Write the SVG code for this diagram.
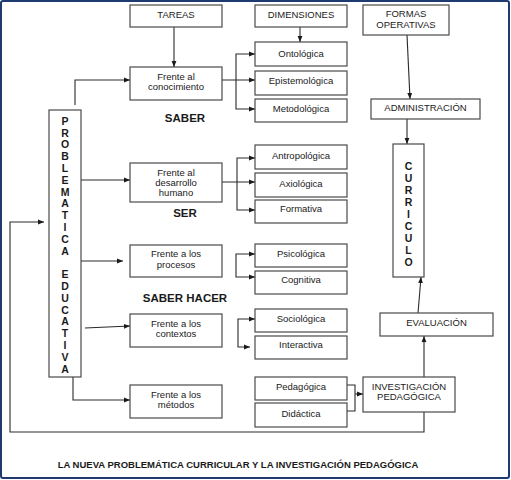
<svg xmlns="http://www.w3.org/2000/svg" width="511" height="480" viewBox="0 0 511 480">
<style>
.box{fill:#fff;stroke:#4a4a4a;stroke-width:1.2}
.t{font-family:"Liberation Sans",Arial,sans-serif;font-size:9.5px;fill:#1a1a1a;text-anchor:middle}
.b{font-family:"Liberation Sans",Arial,sans-serif;font-weight:bold;fill:#1a1a1a;text-anchor:middle}
.c{fill:none;stroke:#2a2a2a;stroke-width:1.1}
</style>
<defs>
<marker id="ah" viewBox="0 0 10 10" refX="10" refY="5" markerWidth="6" markerHeight="6" markerUnits="userSpaceOnUse" orient="auto"><path d="M0,1 L10,5 L0,9 z" fill="#1a1a1a"/></marker>
</defs>
<rect x="0" y="0" width="511" height="480" fill="#fff"/>
<rect x="1" y="1" width="508" height="477" rx="2" fill="none" stroke="#1f3a6e" stroke-width="2"/>

<g id="connectors">
<path class="c" d="M174,27 V67" marker-end="url(#ah)"/>
<path class="c" d="M300,27 V42" marker-end="url(#ah)"/>
<path class="c" d="M407,35 L410,99" marker-end="url(#ah)"/>
<path class="c" d="M407,119 V144" marker-end="url(#ah)"/>
<path class="c" d="M418,313 L421,277" marker-end="url(#ah)"/>
<path class="c" d="M424,377 V336" marker-end="url(#ah)"/>
<path class="c" d="M75,105 V80 H130" marker-end="url(#ah)"/>
<path class="c" d="M81,180 H130" marker-end="url(#ah)"/>
<path class="c" d="M81,261 H123" marker-end="url(#ah)"/>
<path class="c" d="M85,328 L130,326" marker-end="url(#ah)"/>
<path class="c" d="M73,377 V400 H130" marker-end="url(#ah)"/>
<path class="c" d="M424,412 V432 H10 V222 H44" marker-end="url(#ah)"/>
<path class="c" d="M222,80 H255" marker-end="url(#ah)"/>
<path class="c" d="M236,80 V54 H255" marker-end="url(#ah)"/>
<path class="c" d="M236,80 V109 H255" marker-end="url(#ah)"/>
<path class="c" d="M222,182 H255" marker-end="url(#ah)"/>
<path class="c" d="M237,182 V158 H255" marker-end="url(#ah)"/>
<path class="c" d="M237,182 V210 H255" marker-end="url(#ah)"/>
<path class="c" d="M236,266 V254 H255" marker-end="url(#ah)"/>
<path class="c" d="M236,266 V277 H255" marker-end="url(#ah)"/>
<path class="c" d="M238,333 V319 H255" marker-end="url(#ah)"/>
<path class="c" d="M238,333 V347 H250" marker-end="url(#ah)"/>
<path class="c" d="M347,385 H355 V411 H347"/>
<path class="c" d="M355,394 H363" marker-end="url(#ah)"/>
</g>

<g id="tareas"><rect class="box" x="130" y="5" width="92" height="22"/><text class="t" x="176" y="17.5">TAREAS</text></g>
<g id="dimensiones"><rect class="box" x="255" y="5" width="92" height="22"/><text class="t" x="301" y="17.5">DIMENSIONES</text></g>
<g id="formas"><rect class="box" x="363" y="5" width="86" height="30"/><text class="t" x="406" y="16.5">FORMAS</text><text class="t" x="406" y="27.5">OPERATIVAS</text></g>

<g id="ontologica"><rect class="box" x="255" y="42" width="92" height="24"/><text class="t" x="301" y="56.5">Ontológica</text></g>
<g id="epistemologica"><rect class="box" x="255" y="71" width="92" height="24"/><text class="t" x="301" y="83.5">Epistemológica</text></g>
<g id="metodologica"><rect class="box" x="255" y="99" width="92" height="23"/><text class="t" x="301" y="111.5">Metodológica</text></g>

<g id="conocimiento"><rect class="box" x="130" y="67" width="92" height="33"/><text class="t" x="176" y="79.5">Frente al</text><text class="t" x="176" y="89.5">conocimiento</text></g>
<g id="saber"><text class="b" x="185" y="122" font-size="11.5">SABER</text></g>

<g id="administracion"><rect class="box" x="371" y="99" width="109" height="20"/><text class="t" x="425.5" y="110.5">ADMINISTRACIÓN</text></g>

<g id="antropologica"><rect class="box" x="255" y="145" width="92" height="24"/><text class="t" x="301" y="158.5">Antropológica</text></g>
<g id="axiologica"><rect class="box" x="255" y="173" width="92" height="24"/><text class="t" x="301" y="186.5">Axiológica</text></g>
<g id="formativa"><rect class="box" x="255" y="200" width="92" height="23"/><text class="t" x="301" y="212">Formativa</text></g>

<g id="desarrollo"><rect class="box" x="130" y="163" width="92" height="39"/><text class="t" x="176" y="175.5">Frente al</text><text class="t" x="176" y="185.5">desarrollo</text><text class="t" x="176" y="195.5">humano</text></g>
<g id="ser"><text class="b" x="185" y="217" font-size="11.5">SER</text></g>

<g id="problematica"><rect class="box" x="49" y="110" width="32" height="267"/>
<text class="b" font-size="10.5"><tspan x="65" y="124.8">P</tspan><tspan x="65" dy="11.8">R</tspan><tspan x="65" dy="11.8">O</tspan><tspan x="65" dy="11.8">B</tspan><tspan x="65" dy="11.8">L</tspan><tspan x="65" dy="11.8">E</tspan><tspan x="65" dy="11.8">M</tspan><tspan x="65" dy="11.8">A</tspan><tspan x="65" dy="11.8">T</tspan><tspan x="65" dy="11.8">I</tspan><tspan x="65" dy="11.8">C</tspan><tspan x="65" dy="11.8">A</tspan><tspan x="65" dy="23.6">E</tspan><tspan x="65" dy="11.8">D</tspan><tspan x="65" dy="11.8">U</tspan><tspan x="65" dy="11.8">C</tspan><tspan x="65" dy="11.8">A</tspan><tspan x="65" dy="11.8">T</tspan><tspan x="65" dy="11.8">I</tspan><tspan x="65" dy="11.8">V</tspan><tspan x="65" dy="11.8">A</tspan></text></g>

<g id="curriculo"><rect class="box" x="393" y="144" width="31" height="133"/>
<text class="b" font-size="10.5"><tspan x="408.5" y="169.7">C</tspan><tspan x="408.5" dy="12">U</tspan><tspan x="408.5" dy="12">R</tspan><tspan x="408.5" dy="12">R</tspan><tspan x="408.5" dy="12">I</tspan><tspan x="408.5" dy="12">C</tspan><tspan x="408.5" dy="12">U</tspan><tspan x="408.5" dy="12">L</tspan><tspan x="408.5" dy="12">O</tspan></text></g>

<g id="procesos"><rect class="box" x="130" y="245" width="92" height="32"/><text class="t" x="176" y="256.5">Frente a los</text><text class="t" x="176" y="267.5">procesos</text></g>
<g id="psicologica"><rect class="box" x="255" y="244" width="92" height="23"/><text class="t" x="301" y="256.5">Psicológica</text></g>
<g id="cognitiva"><rect class="box" x="255" y="271" width="92" height="23"/><text class="t" x="301" y="282.5">Cognitiva</text></g>
<g id="saberhacer"><text class="b" x="185" y="302" font-size="11.5">SABER HACER</text></g>

<g id="contextos"><rect class="box" x="130" y="314" width="92" height="33"/><text class="t" x="176" y="326.5">Frente a los</text><text class="t" x="176" y="336.5">contextos</text></g>
<g id="sociologica"><rect class="box" x="255" y="309" width="92" height="23"/><text class="t" x="301" y="321.5">Sociológica</text></g>
<g id="interactiva"><rect class="box" x="255" y="336" width="92" height="23"/><text class="t" x="301" y="347.5">Interactiva</text></g>
<g id="evaluacion"><rect class="box" x="380" y="313" width="113" height="23"/><text class="t" x="436.5" y="325.5">EVALUACIÓN</text></g>

<g id="metodos"><rect class="box" x="130" y="385" width="92" height="33"/><text class="t" x="176" y="397.5">Frente a los</text><text class="t" x="176" y="407.5">métodos</text></g>
<g id="pedagogica"><rect class="box" x="255" y="377" width="92" height="23"/><text class="t" x="301" y="389.5">Pedagógica</text></g>
<g id="didactica"><rect class="box" x="255" y="403" width="92" height="24"/><text class="t" x="301" y="416.5">Didáctica</text></g>
<g id="investigacion"><rect class="box" x="363" y="377" width="92" height="35"/><text class="t" x="409" y="389.5">INVESTIGACIÓN</text><text class="t" x="409" y="399.5">PEDAGÓGICA</text></g>

<g id="titulo"><text class="b" x="238" y="467.5" font-size="9.5">LA NUEVA PROBLEMÁTICA CURRICULAR Y LA INVESTIGACIÓN PEDAGÓGICA</text></g>
</svg>
